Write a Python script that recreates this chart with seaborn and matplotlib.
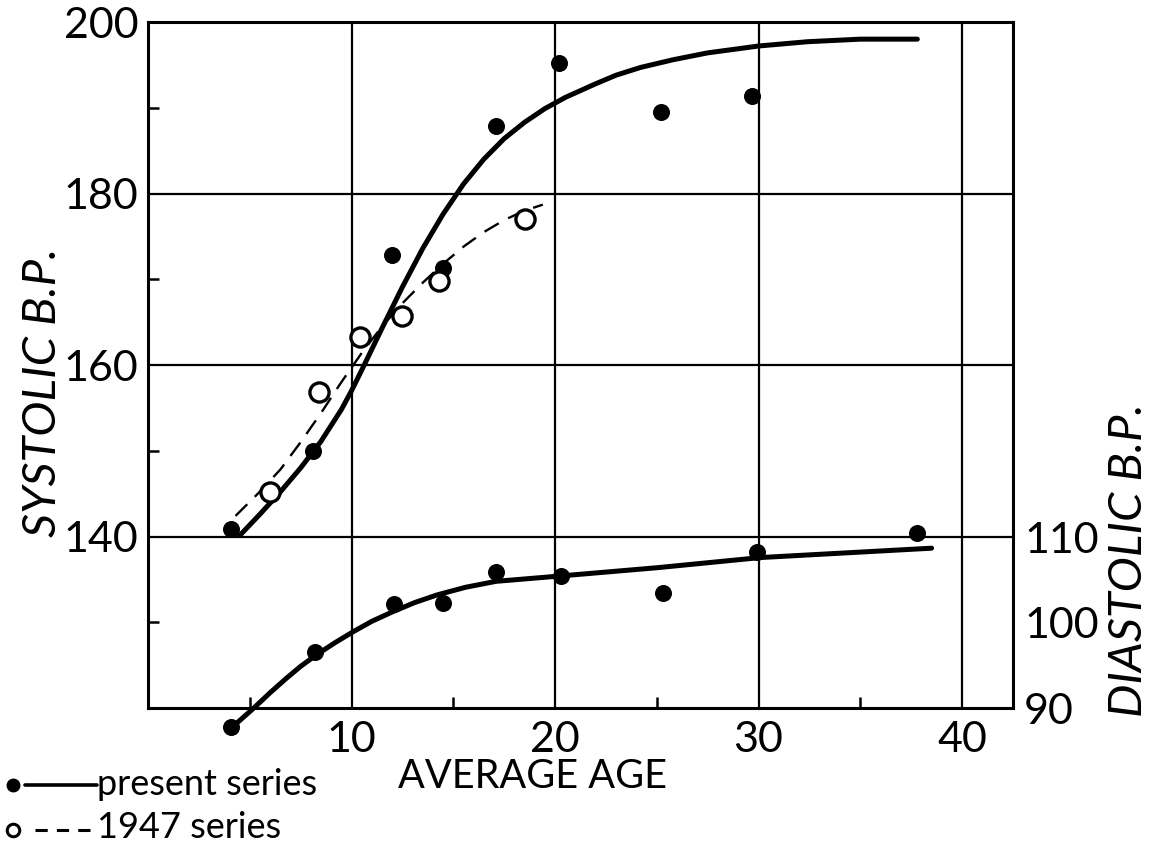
import matplotlib
matplotlib.use("Agg")
import matplotlib.pyplot as plt
import seaborn as sns
from matplotlib.lines import Line2D

# --- data ---
# present series, systolic (filled dots)
sys_age = [4.1, 8.1, 12.0, 14.5, 17.1, 20.2, 25.2, 29.7]
sys_bp = [140.9, 150.0, 172.8, 171.3, 187.9, 195.2, 189.5, 191.4]

# 1947 series, systolic (open circles)
old_age = [6.0, 8.4, 10.4, 12.5, 14.3, 18.5]
old_bp = [145.2, 156.9, 163.3, 165.7, 169.8, 177.0]

# present series, diastolic (filled dots, right axis)
dia_age = [4.1, 8.2, 12.1, 14.5, 17.1, 20.3, 25.3, 29.9, 37.8]
dia_bp = [87.8, 96.6, 102.2, 102.4, 106.0, 105.5, 103.5, 108.4, 110.6]

# hand-drawn fitted curves
sys_fit_age = [4.5, 5.5, 6.5, 7.5, 8.5, 9.5, 10.0, 10.5, 11.5, 12.5, 13.5, 14.5,
               15.5, 16.5, 17.5, 18.5, 19.5, 20.5, 22.0, 23.0, 24.2, 25.8, 27.5,
               30.0, 32.4, 35.0, 37.8]
sys_fit_bp = [140.1, 142.6, 145.2, 148.0, 151.1, 154.8, 157.0, 159.4, 164.3,
              169.1, 173.6, 177.6, 181.1, 184.0, 186.4, 188.3, 189.9, 191.2,
              192.8, 193.8, 194.7, 195.6, 196.4, 197.2, 197.7, 198.0, 198.0]

old_fit_age = [4.3, 5.4, 6.5, 7.5, 8.5, 9.5, 10.5, 11.5, 12.5, 13.5, 14.5, 15.5,
               16.5, 17.5, 18.5, 19.4]
old_fit_bp = [142.4, 145.0, 147.8, 151.0, 154.4, 158.0, 161.4, 164.5, 167.2,
              169.6, 171.8, 173.8, 175.5, 176.9, 178.0, 178.7]

dia_fit_age = [4.4, 5.2, 6.0, 6.8, 7.5, 8.3, 9.2, 10.1, 11.0, 12.0, 13.1, 14.2,
               15.6, 17.1, 20.1, 25.0, 30.1, 38.5]
dia_fit_bp = [88.3, 90.0, 91.8, 93.5, 94.9, 96.3, 97.7, 99.0, 100.2, 101.3,
              102.4, 103.3, 104.2, 104.9, 105.5, 106.5, 107.7, 108.8]

x_major = [10, 20, 30, 40]
x_minor = [5, 15, 25, 35]
sys_major = [140, 160, 180, 200]
sys_minor = [130, 150, 170, 190]
dia_ticks = [90, 100, 110]

# --- style ---
sns.set_style("white")
plt.rcParams['font.family'] = ['Lato', 'DejaVu Sans']
plt.rcParams['axes.unicode_minus'] = False
for key in ['text.color', 'axes.labelcolor', 'xtick.color', 'ytick.color']:
    plt.rcParams[key] = 'black'

W, H = 1158, 846
fig = plt.figure(figsize=(W / 100, H / 100), dpi=100)
L, R, T, B = 148, 1013, 22, 708
ax = fig.add_axes([L / W, (H - B) / H, (R - L) / W, (B - T) / H])

ink = 'black'

# systolic curves + points
sns.lineplot(x=sys_fit_age, y=sys_fit_bp, ax=ax, color=ink, lw=3.6,
             sort=False, estimator=None)
sns.lineplot(x=old_fit_age, y=old_fit_bp, ax=ax, color=ink, lw=1.7,
             sort=False, estimator=None, linestyle=(0, (7, 4.5)))
sns.scatterplot(x=sys_age, y=sys_bp, ax=ax, color=ink, s=150, edgecolor=ink,
                linewidth=0, zorder=5)
sns.scatterplot(x=old_age, y=old_bp, ax=ax, color='white', s=190, edgecolor=ink,
                linewidth=2.4, zorder=5)

ax.set_xlim(0, 42.5)
ax.set_ylim(120, 200)
ax.set_xticks(x_major)
ax.set_xticks(x_minor, minor=True)
ax.set_yticks(sys_major)
ax.set_yticks(sys_minor, minor=True)
ax.grid(True, which='major', color=ink, lw=1.6)
for s in ax.spines.values():
    s.set_color(ink)
    s.set_linewidth(2.2)
ax.tick_params(which='major', length=0, labelsize=31, colors=ink)
ax.tick_params(axis='y', which='major', pad=7)
ax.tick_params(axis='x', which='major', pad=9)
ax.tick_params(which='minor', direction='in', length=8, width=1.8, color=ink)
ax.tick_params(axis='y', which='minor', left=True, right=True)
ax.tick_params(axis='x', which='minor', bottom=True)

ax.set_xlabel('AVERAGE AGE', fontsize=28.5)
ax.xaxis.set_label_coords((533 - L) / (R - L), (B - 758) / (B - T))
ax.set_ylabel('SYSTOLIC B.P.', fontsize=34, style='italic')
ax.yaxis.set_label_coords((64 - L) / (R - L), (B - 392) / (B - T))

# diastolic on right axis
ax2 = ax.twinx()
sns.lineplot(x=dia_fit_age, y=dia_fit_bp, ax=ax2, color=ink, lw=3.6,
             sort=False, estimator=None, clip_on=False)
sns.scatterplot(x=dia_age, y=dia_bp, ax=ax2, color=ink, s=150, edgecolor=ink,
                linewidth=0, zorder=5, clip_on=False)
ax2.set_ylim(90, 170.7)
ax2.set_yticks(dia_ticks)
ax2.tick_params(which='major', length=0, labelsize=31, pad=8, colors=ink)
ax2.set_xlim(0, 42.5)
for s in ax2.spines.values():
    s.set_visible(False)
ax2.set_ylabel('DIASTOLIC B.P.', fontsize=34, style='italic')
ax2.yaxis.set_label_coords((1108 - L) / (R - L), (B - 560) / (B - T))

# legend drawn below the plot, like the original key
def fx(px):
    return px / W

def fy(py):
    return (H - py) / H

fig.add_artist(Line2D([fx(25), fx(97)], [fy(785), fy(785)], color=ink, lw=2.6))
fig.add_artist(Line2D([fx(13)], [fy(785)], marker='o', ms=9, color=ink, lw=0))
fig.text(fx(97), fy(795), 'present series', fontsize=26, va='baseline', color=ink)
fig.add_artist(Line2D([fx(35), fx(92)], [fy(830), fy(830)], color=ink, lw=2.2,
                      linestyle=(0, (4, 3))))
fig.add_artist(Line2D([fx(13)], [fy(830)], marker='o', ms=9, mfc='white',
                      mec=ink, mew=2.2, lw=0))
fig.text(fx(97), fy(838), '1947 series', fontsize=26, va='baseline', color=ink)

fig.savefig('out.png', dpi=100)
